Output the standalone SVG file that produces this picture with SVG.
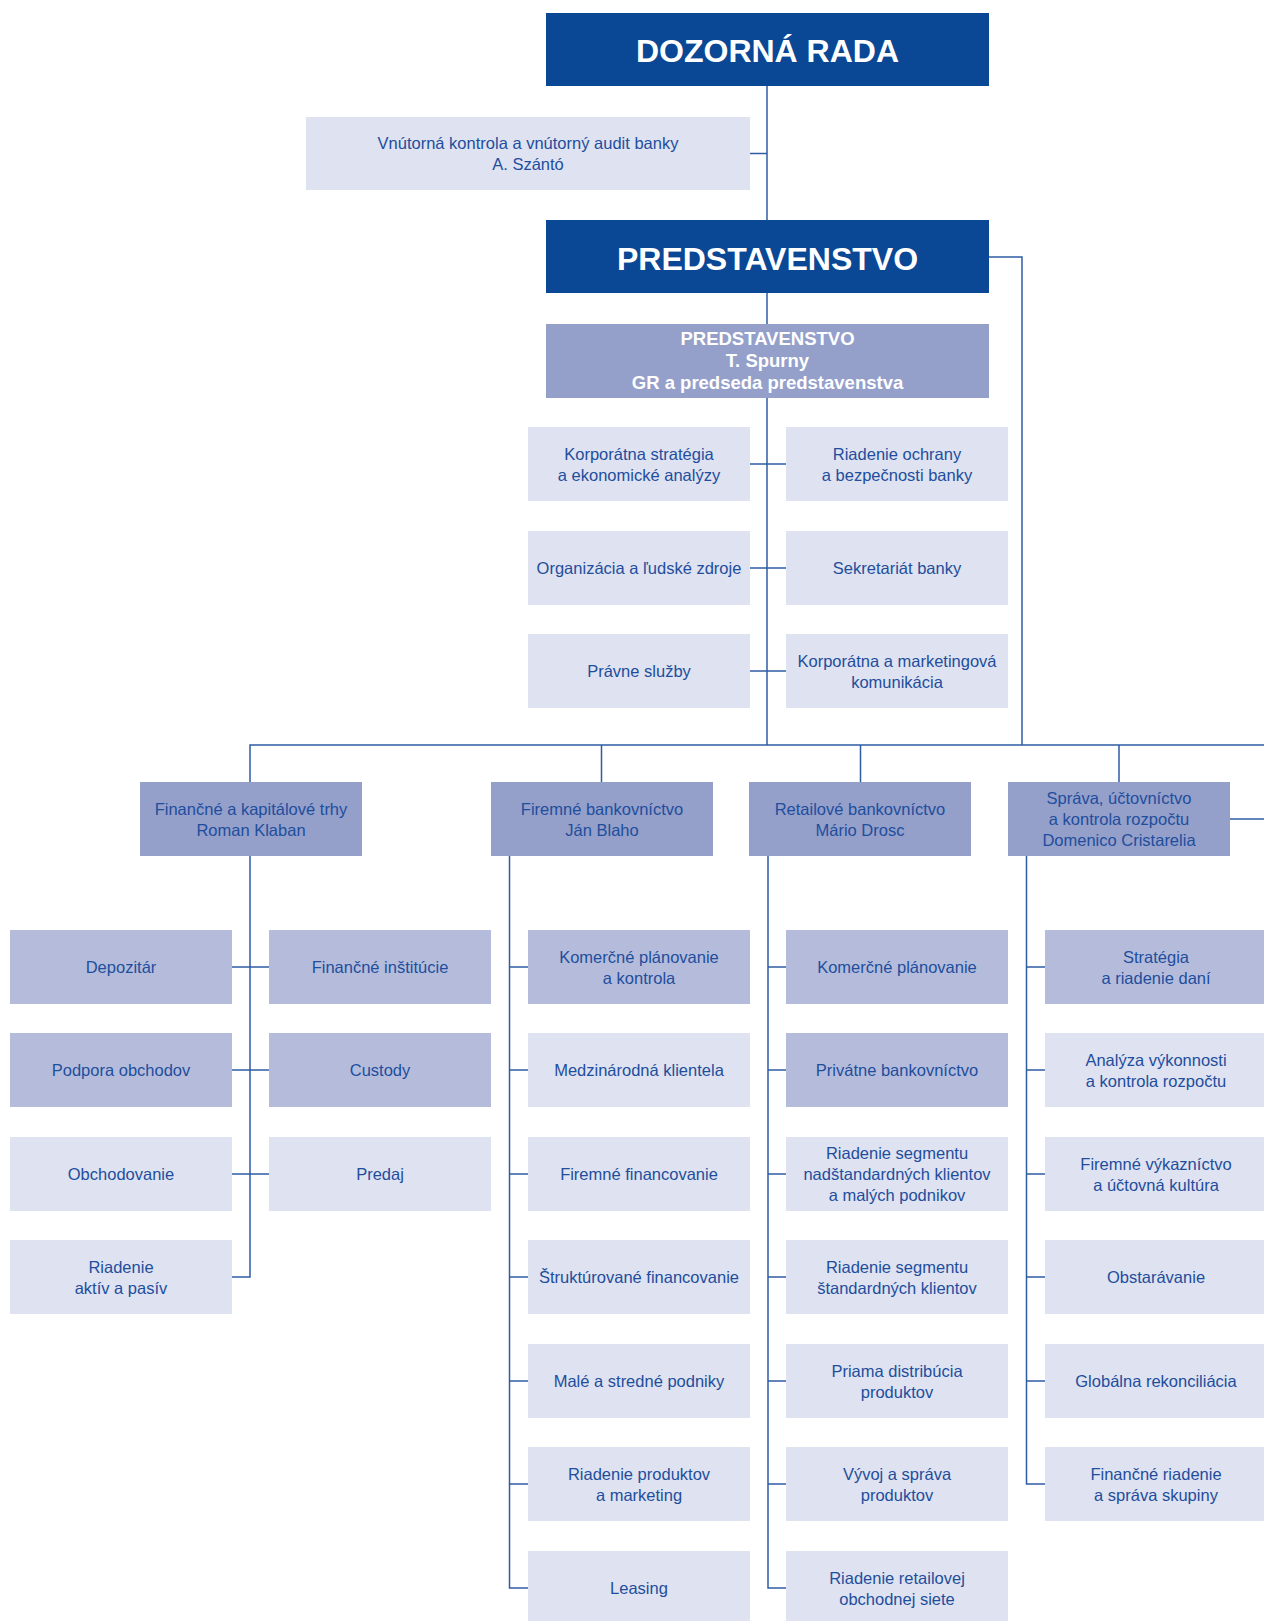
<svg xmlns="http://www.w3.org/2000/svg" width="1264" height="1621" viewBox="0 0 1264 1621">
<style>
.ln{fill:none;stroke:#2E5DA4;stroke-width:1.5}
.dk{fill:#0A4795}
.gb{fill:#949FCA}
.md{fill:#B5BCDB}
.lt{fill:#DFE2F0}
text{font-family:"Liberation Sans",Arial,sans-serif;text-anchor:middle}
.t{font-size:16.5px;fill:#1E4E9D}
.big{font-size:32px;font-weight:bold;fill:#fff}
.wb{font-size:18.5px;font-weight:bold;fill:#fff}
</style>
<rect width="1264" height="1621" fill="#fff"/>
<g id="connectors" class="ln">
<path d="M767 86V745"/>
<path d="M750 153.5H767"/>
<path d="M989 257H1022V745"/>
<path d="M250 782V745H1264"/>
<path d="M601.5 745V782M860.5 745V782M1119 745V782"/>
<path d="M750 464H786M750 568H786M750 671H786"/>
<path d="M250 856V1277H232M232 967H269M232 1070H269M232 1174H269"/>
<path d="M509.5 856V1588H528M509.5 967H528M509.5 1070H528M509.5 1174H528M509.5 1277H528M509.5 1381H528M509.5 1484H528"/>
<path d="M768 856V1588H786M768 967H786M768 1070H786M768 1174H786M768 1277H786M768 1381H786M768 1484H786"/>
<path d="M1026.5 856V1484H1045M1026.5 967H1045M1026.5 1070H1045M1026.5 1174H1045M1026.5 1277H1045M1026.5 1381H1045"/>
<path d="M1230 819H1264"/>
</g>
<g id="dozorna-rada"><rect class="dk" x="546" y="13" width="443" height="73"/><text class="big" x="767.5" y="61.5">DOZORNÁ RADA</text></g>
<g id="audit"><rect class="lt" x="306" y="117" width="444" height="73"/><text class="t" x="528" y="149">Vnútorná kontrola a vnútorný audit banky</text><text class="t" x="528" y="170">A. Szántó</text></g>
<g id="predstavenstvo"><rect class="dk" x="546" y="220" width="443" height="73"/><text class="big" x="767.5" y="269.5">PREDSTAVENSTVO</text></g>
<g id="gr"><rect class="gb" x="546" y="324" width="443" height="74"/><text class="wb" x="767.5" y="345">PREDSTAVENSTVO</text><text class="wb" x="767.5" y="367">T. Spurny</text><text class="wb" x="767.5" y="389">GR a predseda predstavenstva</text></g>
<g id="korp-strategia"><rect class="lt" x="528" y="427" width="222" height="74"/><text class="t" x="639" y="459.5">Korporátna stratégia</text><text class="t" x="639" y="480.5">a ekonomické analýzy</text></g>
<g id="ochrana"><rect class="lt" x="786" y="427" width="222" height="74"/><text class="t" x="897" y="459.5">Riadenie ochrany</text><text class="t" x="897" y="480.5">a bezpečnosti banky</text></g>
<g id="organizacia"><rect class="lt" x="528" y="531" width="222" height="74"/><text class="t" x="639" y="574">Organizácia a ľudské zdroje</text></g>
<g id="sekretariat"><rect class="lt" x="786" y="531" width="222" height="74"/><text class="t" x="897" y="574">Sekretariát banky</text></g>
<g id="pravne"><rect class="lt" x="528" y="634" width="222" height="74"/><text class="t" x="639" y="677">Právne služby</text></g>
<g id="komunikacia"><rect class="lt" x="786" y="634" width="222" height="74"/><text class="t" x="897" y="666.5">Korporátna a marketingová</text><text class="t" x="897" y="687.5">komunikácia</text></g>
<g id="fkt"><rect class="gb" x="140" y="782" width="222" height="74"/><text class="t" x="251" y="814.5">Finančné a kapitálové trhy</text><text class="t" x="251" y="835.5">Roman Klaban</text></g>
<g id="fb"><rect class="gb" x="491" y="782" width="222" height="74"/><text class="t" x="602" y="814.5">Firemné bankovníctvo</text><text class="t" x="602" y="835.5">Ján Blaho</text></g>
<g id="rb"><rect class="gb" x="749" y="782" width="222" height="74"/><text class="t" x="860" y="814.5">Retailové bankovníctvo</text><text class="t" x="860" y="835.5">Mário Drosc</text></g>
<g id="sprava"><rect class="gb" x="1008" y="782" width="222" height="74"/><text class="t" x="1119" y="804">Správa, účtovníctvo</text><text class="t" x="1119" y="825">a kontrola rozpočtu</text><text class="t" x="1119" y="846">Domenico Cristarelia</text></g>
<g id="depozitar"><rect class="md" x="10" y="930" width="222" height="74"/><text class="t" x="121" y="973">Depozitár</text></g>
<g id="fin-instit"><rect class="md" x="269" y="930" width="222" height="74"/><text class="t" x="380" y="973">Finančné inštitúcie</text></g>
<g id="podpora"><rect class="md" x="10" y="1033" width="222" height="74"/><text class="t" x="121" y="1076">Podpora obchodov</text></g>
<g id="custody"><rect class="md" x="269" y="1033" width="222" height="74"/><text class="t" x="380" y="1076">Custody</text></g>
<g id="obchodovanie"><rect class="lt" x="10" y="1137" width="222" height="74"/><text class="t" x="121" y="1180">Obchodovanie</text></g>
<g id="predaj"><rect class="lt" x="269" y="1137" width="222" height="74"/><text class="t" x="380" y="1180">Predaj</text></g>
<g id="aktiva"><rect class="lt" x="10" y="1240" width="222" height="74"/><text class="t" x="121" y="1272.5">Riadenie</text><text class="t" x="121" y="1293.5">aktív a pasív</text></g>
<g id="fb-kpk"><rect class="md" x="528" y="930" width="222" height="74"/><text class="t" x="639" y="962.5">Komerčné plánovanie</text><text class="t" x="639" y="983.5">a kontrola</text></g>
<g id="fb-medz"><rect class="lt" x="528" y="1033" width="222" height="74"/><text class="t" x="639" y="1076">Medzinárodná klientela</text></g>
<g id="fb-fin"><rect class="lt" x="528" y="1137" width="222" height="74"/><text class="t" x="639" y="1180">Firemné financovanie</text></g>
<g id="fb-strukt"><rect class="lt" x="528" y="1240" width="222" height="74"/><text class="t" x="639" y="1283">Štruktúrované financovanie</text></g>
<g id="fb-msp"><rect class="lt" x="528" y="1344" width="222" height="74"/><text class="t" x="639" y="1387">Malé a stredné podniky</text></g>
<g id="fb-prod"><rect class="lt" x="528" y="1447" width="222" height="74"/><text class="t" x="639" y="1479.5">Riadenie produktov</text><text class="t" x="639" y="1500.5">a marketing</text></g>
<g id="fb-leasing"><rect class="lt" x="528" y="1551" width="222" height="74"/><text class="t" x="639" y="1594">Leasing</text></g>
<g id="rb-kp"><rect class="md" x="786" y="930" width="222" height="74"/><text class="t" x="897" y="973">Komerčné plánovanie</text></g>
<g id="rb-priv"><rect class="md" x="786" y="1033" width="222" height="74"/><text class="t" x="897" y="1076">Privátne bankovníctvo</text></g>
<g id="rb-nad"><rect class="lt" x="786" y="1137" width="222" height="74"/><text class="t" x="897" y="1159">Riadenie segmentu</text><text class="t" x="897" y="1180">nadštandardných klientov</text><text class="t" x="897" y="1201">a malých podnikov</text></g>
<g id="rb-std"><rect class="lt" x="786" y="1240" width="222" height="74"/><text class="t" x="897" y="1272.5">Riadenie segmentu</text><text class="t" x="897" y="1293.5">štandardných klientov</text></g>
<g id="rb-priama"><rect class="lt" x="786" y="1344" width="222" height="74"/><text class="t" x="897" y="1376.5">Priama distribúcia</text><text class="t" x="897" y="1397.5">produktov</text></g>
<g id="rb-vyvoj"><rect class="lt" x="786" y="1447" width="222" height="74"/><text class="t" x="897" y="1479.5">Vývoj a správa</text><text class="t" x="897" y="1500.5">produktov</text></g>
<g id="rb-siet"><rect class="lt" x="786" y="1551" width="222" height="74"/><text class="t" x="897" y="1583.5">Riadenie retailovej</text><text class="t" x="897" y="1604.5">obchodnej siete</text></g>
<g id="sp-dane"><rect class="md" x="1045" y="930" width="222" height="74"/><text class="t" x="1156" y="962.5">Stratégia</text><text class="t" x="1156" y="983.5">a riadenie daní</text></g>
<g id="sp-analyza"><rect class="lt" x="1045" y="1033" width="222" height="74"/><text class="t" x="1156" y="1065.5">Analýza výkonnosti</text><text class="t" x="1156" y="1086.5">a kontrola rozpočtu</text></g>
<g id="sp-vykaz"><rect class="lt" x="1045" y="1137" width="222" height="74"/><text class="t" x="1156" y="1169.5">Firemné výkazníctvo</text><text class="t" x="1156" y="1190.5">a účtovná kultúra</text></g>
<g id="sp-obst"><rect class="lt" x="1045" y="1240" width="222" height="74"/><text class="t" x="1156" y="1283">Obstarávanie</text></g>
<g id="sp-rekon"><rect class="lt" x="1045" y="1344" width="222" height="74"/><text class="t" x="1156" y="1387">Globálna rekonciliácia</text></g>
<g id="sp-fin"><rect class="lt" x="1045" y="1447" width="222" height="74"/><text class="t" x="1156" y="1479.5">Finančné riadenie</text><text class="t" x="1156" y="1500.5">a správa skupiny</text></g>
</svg>
